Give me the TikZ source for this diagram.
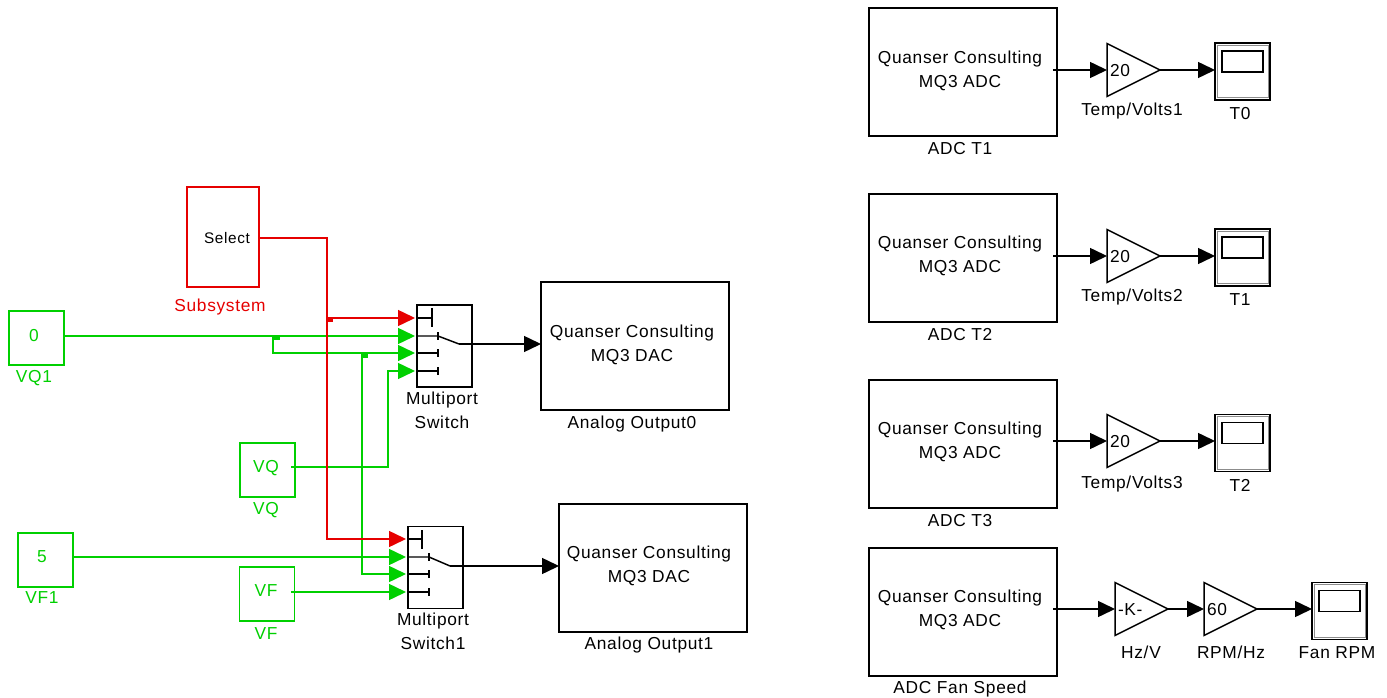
\documentclass[tikz,border=0pt]{standalone}
\usepackage{fontspec}
\setmainfont[LetterSpace=4]{Liberation Sans}
\usetikzlibrary{arrows.meta}
\definecolor{sgreen}{RGB}{0,208,0}
\definecolor{sred}{RGB}{230,0,0}
\tikzset{
  base/.style={inner sep=0pt,outer sep=0pt,font=\fontsize{13}{18}\selectfont,align=center},
  txt/.style={base,yshift=-.75pt},
  blk/.style={base,draw=black,line width=1.1pt},
  adc/.style={blk,minimum width=141pt,minimum height=96pt},
  swbox/.style={blk,minimum width=41.25pt,minimum height=61.5pt},
  src/.style={base,draw=sgreen,line width=1pt,minimum width=41.25pt,minimum height=40.5pt},
  gainshape/.style={base,minimum width=39.75pt,minimum height=39.75pt},
  gaintext/.style={txt,anchor=west},
  scopebox/.style={blk,minimum width=41.25pt,minimum height=42.75pt},
  screen/.style={draw=black,line width=1.1pt,inner sep=0pt,minimum width=30.75pt,minimum height=15.75pt},
  inset/.style={draw=black!45,line width=.5pt,inner sep=0pt,minimum width=38pt,minimum height=39.5pt},
  lab/.style={txt},
  glab/.style={txt,text=sgreen},
  rlab/.style={txt,text=sred},
  sig/.style={line width=1.1pt,-{Triangle[length=12.75pt,width=12pt]}},
  wire/.style={line width=1.1pt},
  dot/.style={inner sep=0pt,minimum width=5pt,minimum height=3.5pt},
  tickbar/.style={line width=2pt},
}
\begin{document}
\begin{tikzpicture}[x=0.75pt,y=-0.75pt]
\useasboundingbox[fill=white] (0,0) rectangle (1387,698);

% --- left: sources
\node[src] (vq1) at (36.5,338) {};
\node[txt,text=sgreen] (vq1t) at (34,335) {0};
\node[glab] (vq1l) at (34,377) {VQ1};
\node[src] (vq) at (267.5,470) {};
\node[txt,text=sgreen] (vqt) at (266,467) {VQ};
\node[glab] (vql) at (266,509) {VQ};
\node[src] (vf1) at (45.5,560) {};
\node[txt,text=sgreen] (vf1t) at (42,556) {5};
\node[glab] (vf1l) at (42,597) {VF1};
\node[src] (vf) at (267,594) {};
\node[txt,text=sgreen] (vft) at (266,590) {VF};
\node[glab] (vfl) at (266,633) {VF};

\node[base,draw=sred,line width=1pt,minimum width=54pt,minimum height=75pt] (sub) at (223,237) {};
\node[base] (subt) at (227,238) {\fontsize{11.5}{12}\selectfont Select};
\node[rlab] (subl) at (220,306) {Subsystem};

% --- switches
\node[swbox] (sw1) at (444.5,346) {};
\node[lab] (sw1l) at (442,409) {Multiport\\Switch};
\node[swbox] (sw2) at (435.5,567.5) {};
\node[lab] (sw2l) at (433,630) {Multiport\\Switch1};
\coordinate (a1) at (415,318);
\coordinate (a2) at (415,336);
\coordinate (a3) at (415,353);
\coordinate (a4) at (415,371);
\coordinate (b1) at (406,539);
\coordinate (b2) at (406,557);
\coordinate (b3) at (406,574);
\coordinate (b4) at (406,592);

% --- DAC blocks
\node[adc] (dac0) at (635,346) {};
\node[txt] (dac0t) at (632,344) {Quanser Consulting\\MQ3 DAC};
\node[lab] (dac0l) at (632,423) {Analog Output0};
\node[adc] (dac1) at (653,568) {};
\node[txt] (dac1t) at (649,565) {Quanser Consulting\\MQ3 DAC};
\node[lab] (dac1l) at (649,644) {Analog Output1};

% --- green wiring
\coordinate (vq1s) at (64,336);
\coordinate (j1) at (273,336);
\coordinate (j1b) at (273,353);
\coordinate (j2) at (362,353);
\coordinate (j2b) at (362,574);
\coordinate (vqs) at (291,467);
\coordinate (vqc) at (388,467);
\coordinate (vqd) at (388,371);
\coordinate (vf1s) at (73,557);
\coordinate (vfs) at (291,592);
\begin{scope}[draw=sgreen,color=sgreen]
\draw[sig] (vq1s) -- (a2);
\draw[sig] (j1) -- (j1b) -- (a3);
\draw[sig] (j2) -- (j2b) -- (b3);
\draw[sig] (vqs) -- (vqc) -- (vqd) -- (a4);
\draw[sig] (vf1s) -- (b2);
\draw[sig] (vfs) -- (b4);
\end{scope}
\node[dot,fill=sgreen] (d1) at (276.5,337.5) {};
\node[dot,fill=sgreen] (d2) at (365,355.5) {};

% --- red wiring
\coordinate (subs) at (259,238);
\coordinate (r1) at (327,238);
\coordinate (r2) at (327,318);
\coordinate (r3) at (327,539);
\begin{scope}[draw=sred,color=sred]
\draw[sig] (subs) -- (r1) -- (r3) -- (b1);
\draw[sig] (r2) -- (a1);
\end{scope}
\node[dot,fill=sred] (d3) at (329.5,320) {};

% --- switch internals
\coordinate (s1a) at (417,318); \coordinate (s1b) at (432,318);
\coordinate (s1c) at (417,336); \coordinate (s1d) at (438,336);
\coordinate (s1e) at (417,353); \coordinate (s1f) at (438,353);
\coordinate (s1g) at (417,371); \coordinate (s1h) at (438,371);
\coordinate (s1i) at (459,344);
\draw[wire] (s1a) -- (s1b);
\draw[wire] (432,308) -- (432,327);
\draw[wire] (s1c) -- (s1d) -- (s1i);
\draw[wire] (s1e) -- (s1f);
\draw[wire] (s1g) -- (s1h);
\foreach \c in {s1d,s1f,s1h} \draw[tickbar] ([yshift=3pt]\c) -- ([yshift=-3pt]\c);
\draw[sig] (s1i) -- (dac0.west |- s1i);

\coordinate (s2a) at (408,539); \coordinate (s2b) at (422,539);
\coordinate (s2c) at (408,557); \coordinate (s2d) at (429,557);
\coordinate (s2e) at (408,574); \coordinate (s2f) at (429,574);
\coordinate (s2g) at (408,592); \coordinate (s2h) at (429,592);
\coordinate (s2i) at (450,566);
\draw[wire] (s2a) -- (s2b);
\draw[wire] (422,530) -- (422,549);
\draw[wire] (s2c) -- (s2d) -- (s2i);
\draw[wire] (s2e) -- (s2f);
\draw[wire] (s2g) -- (s2h);
\foreach \c in {s2d,s2f,s2h} \draw[tickbar] ([yshift=3pt]\c) -- ([yshift=-3pt]\c);
\draw[sig] (s2i) -- (dac1.west |- s2i);

% --- ADC blocks
\node[adc] (adc1) at (963,72) {};
\node[txt] (adc1t) at (960,70) {Quanser Consulting\\MQ3 ADC};
\node[lab] (adc1l) at (960,148) {ADC T1};
\node[adc] (adc2) at (963,258) {};
\node[txt] (adc2t) at (960,255) {Quanser Consulting\\MQ3 ADC};
\node[lab] (adc2l) at (960,334) {ADC T2};
\node[adc] (adc3) at (963,444) {};
\node[txt] (adc3t) at (960,441) {Quanser Consulting\\MQ3 ADC};
\node[lab] (adc3l) at (960,520) {ADC T3};
\node[adc] (adc4) at (963,612) {};
\node[txt] (adc4t) at (960,609) {Quanser Consulting\\MQ3 ADC};
\node[lab] (adc4l) at (960,688) {ADC Fan Speed};

% --- gains
\node[gainshape] (g1) at (1133.5,70) {};
\node[gainshape] (g2) at (1133.5,256) {};
\node[gainshape] (g3) at (1133.5,441) {};
\node[gainshape] (g4) at (1141.5,609) {};
\node[gainshape] (g5) at (1230.5,609) {};
\foreach \g in {g1,g2,g3,g4,g5}
  \draw[wire,line join=miter] (\g.south west) -- (\g.east) -- (\g.north west) -- cycle;
\node[gaintext] (g1t) at (1110,70) {20};
\node[gaintext] (g2t) at (1110,256) {20};
\node[gaintext] (g3t) at (1110,441) {20};
\node[gaintext] (g4t) at (1118,609) {-K-};
\node[gaintext] (g5t) at (1207,609) {60};
\node[lab] (g1l) at (1132,110) {Temp/Volts1};
\node[lab] (g2l) at (1132,296) {Temp/Volts2};
\node[lab] (g3l) at (1132,483) {Temp/Volts3};
\node[lab] (g4l) at (1141,651) {Hz/V};
\node[lab] (g5l) at (1231,651) {RPM/Hz};

% --- scopes
\node[scopebox] (t0) at (1242.5,71.5) {};
\node[scopebox] (t1) at (1242.5,257.5) {};
\node[scopebox] (t2) at (1242.5,443) {};
\node[scopebox] (t3) at (1339.5,611) {};
\foreach \s in {t0,t1,t2,t3} {
  \node[inset] at (\s) {};
  \node[screen] at ([yshift=7.5pt]\s.center) {};
}
\node[lab] (t0l) at (1240,113) {T0};
\node[lab] (t1l) at (1240,299) {T1};
\node[lab] (t2l) at (1240,484) {T2};
\node[lab] (t3l) at (1337,652) {Fan RPM};

% --- right wiring
\draw[sig] ([xshift=-3pt]adc1.east |- g1.west) -- (g1.west);
\draw[sig] (g1.east) -- (t0.west |- g1.east);
\draw[sig] ([xshift=-3pt]adc2.east |- g2.west) -- (g2.west);
\draw[sig] (g2.east) -- (t1.west |- g2.east);
\draw[sig] ([xshift=-3pt]adc3.east |- g3.west) -- (g3.west);
\draw[sig] (g3.east) -- (t2.west |- g3.east);
\draw[sig] ([xshift=-3pt]adc4.east |- g4.west) -- (g4.west);
\draw[sig] (g4.east) -- (g5.west);
\draw[sig] (g5.east) -- (t3.west |- g5.east);
\end{tikzpicture}
\end{document}
